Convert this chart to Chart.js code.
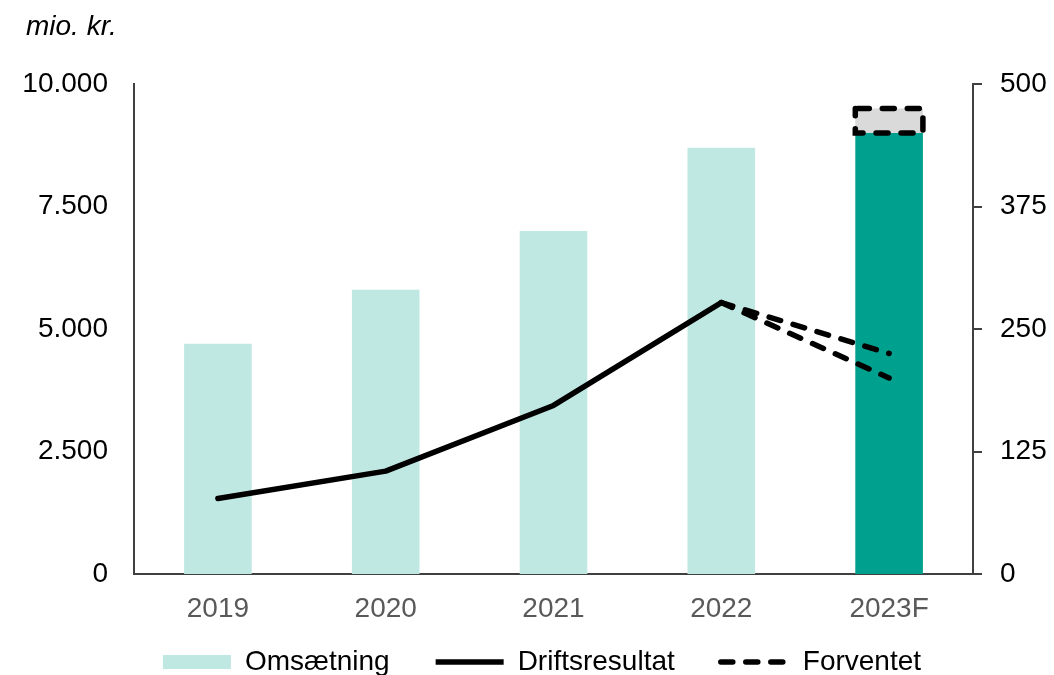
<!DOCTYPE html>
<html>
<head>
<meta charset="utf-8">
<script src="https://cdn.jsdelivr.net/npm/chart.js@4/dist/chart.umd.min.js"></script>
<style>
  html, body { margin: 0; padding: 0; background: #fff; }
  #wrap { width: 1054px; height: 675px; position: relative; }
</style>
</head>
<body>
<div id="wrap"><canvas id="c" width="1054" height="675"></canvas></div>
<script>
// ---- Data ----
const categories = ['2019', '2020', '2021', '2022', '2023F'];
const omsaetning = [4700, 5800, 7000, 8700, 9000];          // mio. kr. (left axis)
const forventetOmsRange = [null, null, null, null, 500];     // 9.000 - 9.500 range on top of 2023F
const driftsresultat = [77, 105, 172, 277, null];           // right axis
const forventetHoej = [null, null, null, 277, 225];
const forventetLav = [null, null, null, 277, 200];
const leftTicks = [0, 2500, 5000, 7500, 10000];
const rightTicks = [0, 125, 250, 375, 500];
const unitLabel = 'mio. kr.';

const FONT = "'Liberation Sans', Arial, sans-serif";
const LIGHT = '#C0E8E3';
const DARK = '#00A08F';
const GREY = '#DADADA';
const AXIS = '#404040';
const DASH = [12, 13];
const LW = 5.5;

Chart.defaults.font.family = FONT;
Chart.defaults.font.size = 28;
Chart.defaults.color = '#000';

function fmtDK(v) {
  return String(Math.round(v)).replace(/\B(?=(\d{3})+(?!\d))/g, '.');
}

const unitPlugin = {
  id: 'unitLabel',
  afterLayout(chart) {
    // let axis labels extend beyond their compact boxes without being clipped
    const x = chart.scales.x;
    x.bottom = x.top + 70;
    x.height = 70;
    const y = chart.scales.y;
    y.left = 0;
    y.width = y.right;
  },
  afterDraw(chart) {
    const ctx = chart.ctx;
    ctx.save();
    ctx.font = 'italic 28px ' + FONT;
    ctx.fillStyle = '#000';
    ctx.textBaseline = 'alphabetic';
    ctx.textAlign = 'left';
    ctx.fillText(unitLabel, 26, 35);
    ctx.restore();
  }
};

const dashedBoxPlugin = {
  id: 'dashedBox',
  afterDatasetsDraw(chart) {
    const idx = chart.data.datasets.findIndex(d => d.id === 'range');
    const meta = chart.getDatasetMeta(idx);
    const ctx = chart.ctx;
    meta.data.forEach((el, i) => {
      if (forventetOmsRange[i] == null) return;
      const p = el.getProps(['x', 'y', 'base', 'width'], true);
      const l = p.x - p.width / 2, r = p.x + p.width / 2;
      const t = Math.min(p.y, p.base), b = Math.max(p.y, p.base);
      ctx.save();
      ctx.strokeStyle = '#000';
      ctx.lineWidth = LW;
      ctx.lineCap = 'round';
      ctx.setLineDash(DASH);
      ctx.beginPath();
      ctx.moveTo(l + 2, t);
      ctx.lineTo(r, t);
      ctx.lineTo(r, b);
      ctx.lineTo(l, b);
      ctx.lineTo(l, t);
      ctx.stroke();
      ctx.restore();
    });
  }
};

new Chart(document.getElementById('c'), {
  type: 'bar',
  data: {
    labels: categories,
    datasets: [
      {
        type: 'line', label: 'Driftsresultat', data: driftsresultat, yAxisID: 'y1',
        borderColor: '#000', borderWidth: LW, pointRadius: 0, fill: false, tension: 0,
        borderCapStyle: 'round', borderJoinStyle: 'round'
      },
      {
        type: 'line', label: 'Forventet', data: forventetHoej, yAxisID: 'y1',
        borderColor: '#000', borderWidth: LW, pointRadius: 0, fill: false, tension: 0,
        borderDash: DASH, borderCapStyle: 'round'
      },
      {
        type: 'line', label: 'Forventet (lav)', data: forventetLav, yAxisID: 'y1',
        borderColor: '#000', borderWidth: LW, pointRadius: 0, fill: false, tension: 0,
        borderDash: DASH, borderCapStyle: 'round'
      },
      {
        label: 'Omsætning', data: omsaetning, yAxisID: 'y', stack: 's',
        backgroundColor: omsaetning.map((v, i) => i === omsaetning.length - 1 ? DARK : LIGHT),
        borderWidth: 0, barPercentage: 0.403, categoryPercentage: 1
      },
      {
        id: 'range', label: 'Forventet omsætning', data: forventetOmsRange, yAxisID: 'y', stack: 's',
        backgroundColor: GREY, borderWidth: 0, barPercentage: 0.403, categoryPercentage: 1
      }
    ]
  },
  options: {
    responsive: false,
    animation: false,
    devicePixelRatio: 1,
    layout: { padding: { top: 84, left: 30, right: 0, bottom: -11 } },
    plugins: {
      tooltip: { enabled: false },
      title: { display: false },
      legend: {
        position: 'bottom',
        align: 'center',
        labels: {
          usePointStyle: true,
          pointStyleWidth: 68,
          boxWidth: 68,
          boxHeight: 14,
          padding: 46,
          color: '#000',
          font: { size: 28, family: FONT },
          generateLabels() {
            return [
              { text: 'Omsætning', fillStyle: LIGHT, strokeStyle: LIGHT, lineWidth: 0, pointStyle: 'rect', datasetIndex: 3 },
              { text: 'Driftsresultat', fillStyle: '#000', strokeStyle: '#000', lineWidth: LW, pointStyle: 'line', lineCap: 'butt', datasetIndex: 0 },
              { text: 'Forventet', fillStyle: '#000', strokeStyle: '#000', lineWidth: LW, pointStyle: 'line', lineDash: DASH, lineCap: 'round', datasetIndex: 1 }
            ];
          }
        }
      }
    },
    scales: {
      x: {
        stacked: true,
        grid: { display: false, drawTicks: false },
        border: { display: true, color: AXIS, width: 2 },
        ticks: { color: '#595959', padding: 18, font: { size: 28 } },
        afterFit(s) { s.height = 28; }
      },
      y: {
        position: 'left',
        stacked: true,
        min: 0, max: 10000,
        grid: { display: false, drawTicks: false },
        border: { display: true, color: AXIS, width: 2 },
        afterBuildTicks(s) { s.ticks = leftTicks.map(v => ({ value: v })); },
        ticks: { color: '#000', padding: 26, font: { size: 28 }, callback: v => fmtDK(v) },
        afterFit(s) { s.width = 104; }
      },
      y1: {
        position: 'right',
        min: 0, max: 500,
        grid: { display: true, drawOnChartArea: false, drawTicks: true, tickLength: 9, color: AXIS, lineWidth: 2 },
        border: { display: true, color: AXIS, width: 2 },
        afterBuildTicks(s) { s.ticks = rightTicks.map(v => ({ value: v })); },
        ticks: { color: '#000', padding: 18, font: { size: 28 }, callback: v => String(v) },
        afterFit(s) { s.width = 81; }
      }
    }
  },
  plugins: [unitPlugin, dashedBoxPlugin]
});
</script>
</body>
</html>
